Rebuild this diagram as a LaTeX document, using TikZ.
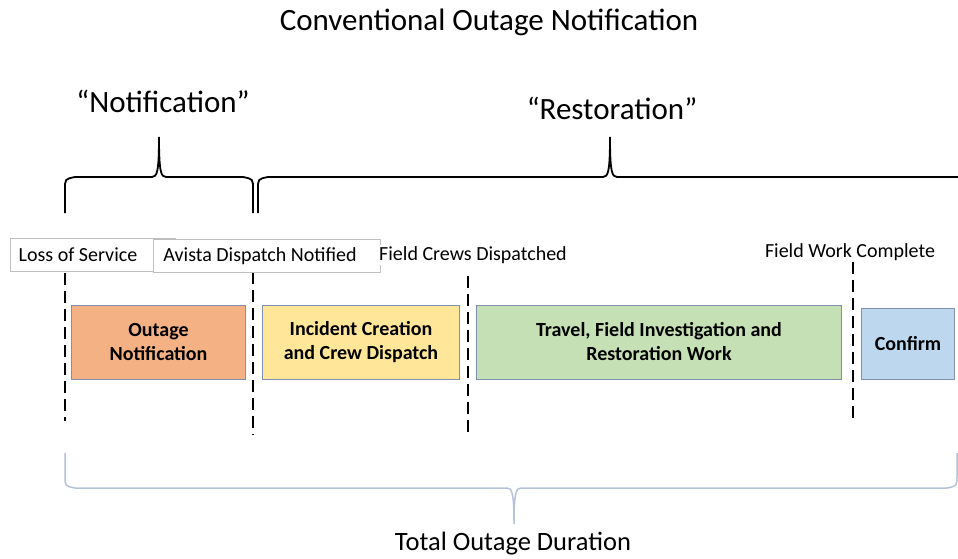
\documentclass[tikz,border=0pt]{standalone}
\usepackage{fontspec}
\setmainfont{Carlito}
\usetikzlibrary{positioning}

\definecolor{outagefill}{HTML}{F4B183}
\definecolor{incidentfill}{HTML}{FFE699}
\definecolor{travelfill}{HTML}{C5E0B4}
\definecolor{confirmfill}{HTML}{BDD7EE}
\definecolor{boxedge}{HTML}{7F8FB0}
\definecolor{tagedge}{HTML}{BFBFBF}
\definecolor{totalbrace}{HTML}{B4C3DA}

% curly brace: style, x left, x tip, x right, y ends, y bar, y tip, direction
\newcommand{\curlybrace}[8]{%
  \draw[#1] (#2,#5) -- (#2,{#6+12*(#8)}) .. controls (#2,{#6+2*(#8)}) .. (#2+10,#6)
  -- (#3-7,#6) .. controls (#3-2,#6) and (#3,{#6-5*(#8)}) .. (#3,#7)
  .. controls (#3,{#6-5*(#8)}) and (#3+2,#6) .. (#3+7,#6)
  -- (#4-10,#6) .. controls (#4,{#6+2*(#8)}) .. (#4,{#6+12*(#8)}) -- (#4,#5);}

\tikzset{
  phase/.style={draw=boxedge, line width=1pt, minimum height=74pt, anchor=west,
    align=center, font=\fontsize{20}{24}\selectfont\bfseries},
  tag/.style={font=\fontsize{20}{22}\selectfont},
  tagbox/.style={draw=tagedge, fill=white, line width=0.8pt},
  cue/.style={black, line width=1.6pt, dash pattern=on 12pt off 6pt},
  heading/.style={font=\fontsize{31}{34}\selectfont},
}

\begin{document}
\begin{tikzpicture}[x=1pt, y=-1pt]
	\useasboundingbox (0,0) rectangle (958,559);
	\node[heading] (title) at (489,22) {Conventional Outage Notification};
	\node[heading] (notif) at (163,101) {“Notification”};
	\node[heading] (resto) at (612,108) {“Restoration”};
	\curlybrace{line width=1.8pt}{65}{159}{253}{213}{177}{137}{1}
	\curlybrace{line width=1.8pt}{258}{610}{968}{213}{177}{137}{1}
	% milestones
	\draw[cue] (65,273) -- (65,421);
	\draw[cue] (253,272) -- (253,435);
	\draw[cue] (468,276) -- (468,435);
	\draw[cue] (853,262) -- (853,420);
	\draw[tagbox] (10,238) rectangle (175,271);
	\draw[tagbox] (153,239) rectangle (380,272);
	\node[tag] (loss) at (78,255) {Loss of Service};
	\node[tag] (avista) at (260,256) {Avista Dispatch Notified};
	\node[tag, fill=white, inner sep=1pt] (crews) at (473,255) {Field Crews Dispatched};
	\node[tag] (done) at (850,252) {Field Work Complete};
	% phases
	\node[phase, fill=outagefill, minimum width=174pt] (outage) at (71,342) {Outage\\Notification};
	\node[phase, fill=incidentfill, minimum width=197pt] (incident) at (262,342) {Incident Creation\\and Crew Dispatch};
	\node[phase, fill=travelfill, minimum width=365pt] (travel) at (476,342) {Travel, Field Investigation and\\Restoration Work};
	\node[phase, fill=confirmfill, minimum width=93pt, minimum height=71pt] (confirm) at (861,343.5) {Confirm};
	% total
	\curlybrace{totalbrace, line width=1.5pt}{65}{514}{957}{453}{488}{524}{-1}
	\node[heading, font=\fontsize{26.5}{30}\selectfont] (total) at (513,544) {Total Outage Duration};
\end{tikzpicture}
\end{document}
